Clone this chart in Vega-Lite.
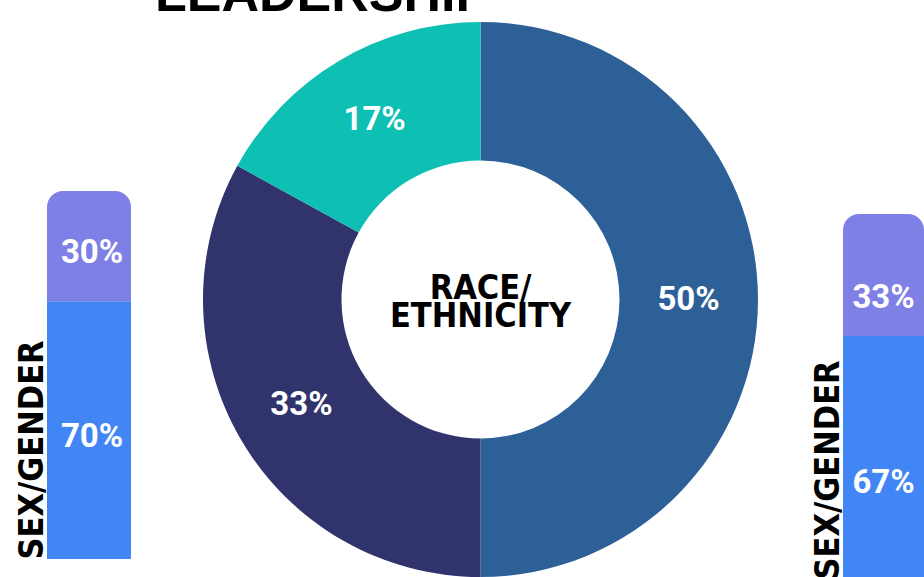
{
  "$schema": "https://vega.github.io/schema/vega-lite/v6.json",
  "background": "white",
  "padding": {"left": 15, "top": -31, "right": 0, "bottom": 0},
  "bounds": "flush",
  "spacing": 72,
  "config": {"view": {"stroke": null}},
  "hconcat": [
    {
      "width": 84,
      "height": 537,
      "data": {"values": [{"gender": "Women", "share": 70}, {"gender": "Men", "share": 30}]},
      "transform": [
        {"stack": "share", "groupby": [], "sort": [{"field": "gender", "order": "descending"}], "as": ["lo", "hi"]},
        {"calculate": "(datum.lo + datum.hi) / 2", "as": "mid"},
        {"calculate": "datum.share + '%'", "as": "label"}
      ],
      "layer": [
        {
          "transform": [{"filter": "datum.gender === 'Women'"}],
          "mark": {"type": "rect", "color": "#4286F5"},
          "encoding": {
            "y": {
              "field": "lo", "type": "quantitative",
              "scale": {"domain": [0, 145.9], "nice": false, "zero": false},
              "axis": {"title": "SEX/GENDER", "titleAnchor": "start", "titleAngle": -90, "titleBaseline": "alphabetic", "titlePadding": 5, "labels": false, "ticks": false, "domain": false, "grid": false, "titleFont": "DejaVu Sans Condensed, DejaVu Sans", "titleFontSize": 34, "titleFontWeight": "bold", "titleColor": "#000000"}
            },
            "y2": {"field": "hi"}
          }
        },
        {
          "transform": [{"filter": "datum.gender === 'Men'"}],
          "mark": {"type": "rect", "color": "#7F80E6", "cornerRadiusTopLeft": 16, "cornerRadiusTopRight": 16},
          "encoding": {
            "y": {"field": "lo", "type": "quantitative"},
            "y2": {"field": "hi"}
          }
        },
        {
          "mark": {"type": "text", "color": "white", "font": "Roboto", "fontWeight": "bold", "fontSize": 33, "baseline": "middle", "dy": 7, "dx": 3},
          "encoding": {
            "y": {"field": "mid", "type": "quantitative"},
            "text": {"field": "label", "type": "nominal"}
          }
        }
      ]
    },
    {
      "bounds": "flush",
      "spacing": 85,
      "hconcat": [
        {
          "width": 555,
          "height": 555,
          "title": {"text": "LEADERSHIP", "anchor": "start", "dx": -48, "offset": -41, "baseline": "alphabetic", "font": "Liberation Sans", "fontSize": 52, "fontWeight": "bold", "color": "#000000"},
          "layer": [
            {
              "data": {"values": [{"race": "Group 1", "share": 50}, {"race": "Group 2", "share": 33}, {"race": "Group 3", "share": 17}]},
              "encoding": {
                "theta": {"field": "share", "type": "quantitative", "stack": true},
                "order": {"field": "share", "type": "quantitative", "sort": "descending"}
              },
              "layer": [
                {
                  "mark": {"type": "arc", "innerRadius": 139, "outerRadius": 277.5},
                  "encoding": {
                    "color": {"field": "race", "type": "nominal", "scale": {"domain": ["Group 1", "Group 2", "Group 3"], "range": ["#2E6098", "#31346C", "#0EBFB4"]}, "legend": null}
                  }
                },
                {
                  "transform": [{"calculate": "datum.share + '%'", "as": "label"}],
                  "mark": {"type": "text", "radius": 208, "color": "white", "font": "Roboto", "fontWeight": "bold", "fontSize": 33, "baseline": "middle"},
                  "encoding": {"text": {"field": "label", "type": "nominal"}}
                }
              ]
            },
            {
              "data": {"values": [{"label": "RACE/\nETHNICITY"}]},
              "mark": {"type": "text", "lineBreak": "\n", "lineHeight": 28, "font": "DejaVu Sans Condensed, DejaVu Sans", "fontWeight": "bold", "fontSize": 34, "color": "#000000", "baseline": "middle", "dy": -11},
              "encoding": {"text": {"field": "label", "type": "nominal"}}
            }
          ]
        },
        {
          "width": 81,
          "height": 557,
          "data": {"values": [{"gender": "Women", "share": 67}, {"gender": "Men", "share": 33}]},
          "transform": [
            {"stack": "share", "groupby": [], "sort": [{"field": "gender", "order": "descending"}], "as": ["lo", "hi"]},
            {"calculate": "(datum.lo + datum.hi) / 2", "as": "mid"},
            {"calculate": "datum.share + '%'", "as": "label"}
          ],
          "layer": [
            {
              "transform": [{"filter": "datum.gender === 'Women'"}],
              "mark": {"type": "rect", "color": "#4286F5", "clip": true},
              "encoding": {
                "y": {
                  "field": "lo", "type": "quantitative",
                  "scale": {"domain": [1.35, 151.9], "nice": false, "zero": false},
                  "axis": {"title": "SEX/GENDER", "titleAnchor": "start", "titleAngle": -90, "titleBaseline": "alphabetic", "titlePadding": 5, "labels": false, "ticks": false, "domain": false, "grid": false, "titleFont": "DejaVu Sans Condensed, DejaVu Sans", "titleFontSize": 34, "titleFontWeight": "bold", "titleColor": "#000000"}
                },
                "y2": {"field": "hi"}
              }
            },
            {
              "transform": [{"filter": "datum.gender === 'Men'"}],
              "mark": {"type": "rect", "color": "#7F80E6", "cornerRadiusTopLeft": 16, "cornerRadiusTopRight": 16, "clip": true},
              "encoding": {
                "y": {"field": "lo", "type": "quantitative"},
                "y2": {"field": "hi"}
              }
            },
            {
              "mark": {"type": "text", "color": "white", "font": "Roboto", "fontWeight": "bold", "fontSize": 33, "baseline": "middle", "dy": 23},
              "encoding": {
                "y": {"field": "mid", "type": "quantitative"},
                "text": {"field": "label", "type": "nominal"}
              }
            }
          ]
        }
      ]
    }
  ]
}
